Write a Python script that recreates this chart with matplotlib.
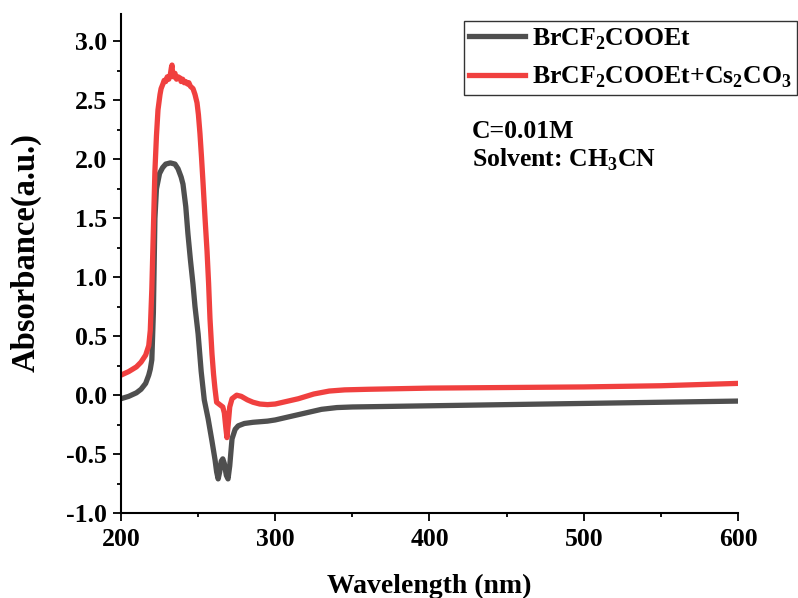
import matplotlib.pyplot as plt
from matplotlib.ticker import MultipleLocator

plt.rcParams["font.family"] = ["Liberation Serif", "DejaVu Serif"]
plt.rcParams["font.weight"] = "bold"
plt.rcParams["mathtext.fontset"] = "custom"
plt.rcParams["mathtext.rm"] = "Liberation Serif:bold"
plt.rcParams["mathtext.bf"] = "Liberation Serif:bold"

# UV-vis spectra (wavelength in nm, absorbance in a.u.)
wl_ester = [200, 205, 210, 213, 216, 218, 219, 220, 221, 222, 223, 225, 227, 229,
            232, 235, 237, 239, 240.2, 242, 243.4, 245, 246.7, 248, 250, 252, 254,
            256.5, 259, 261, 262, 263, 264, 265, 266, 267, 268.3, 269.4, 270.5, 272,
            274, 276, 280, 285.6, 295, 300, 310, 320, 330, 340, 350, 375, 400, 450,
            500, 550, 600]
abs_ester = [-0.03, -0.01, 0.02, 0.05, 0.1, 0.17, 0.22, 0.3, 0.7, 1.5, 1.75, 1.88, 1.93, 1.96,
             1.97, 1.96, 1.92, 1.85, 1.79, 1.6, 1.37, 1.15, 0.94, 0.75, 0.52, 0.2, -0.04,
             -0.2, -0.39, -0.55, -0.65, -0.71, -0.65, -0.56, -0.54, -0.58, -0.68, -0.71, -0.6, -0.37,
             -0.29, -0.26, -0.24, -0.23, -0.22, -0.21, -0.18, -0.15, -0.12, -0.105, -0.1, -0.095, -0.09, -0.08,
             -0.07, -0.06, -0.05]

wl_mix = [200, 205, 210, 213, 216, 218, 219, 220, 221, 222, 223, 224, 225.3, 226, 227.2,
          228, 229, 230, 231, 232, 232.7, 233.1, 233.5, 234, 235, 236, 237, 238.3, 239,
          240, 241, 242, 243, 244, 245, 246.7, 248, 249.3, 250.2, 251.2, 252.2, 253.2,
          254.5, 255.8, 256.8, 257.7, 259, 260, 260.9, 262, 264, 266, 267, 268, 268.7,
          269.5, 270.5, 272, 275, 278, 282, 285.6, 290, 295, 300, 305, 315, 325, 335,
          345, 360, 400, 450, 500, 550, 600]
abs_mix = [0.17, 0.2, 0.24, 0.28, 0.34, 0.42, 0.55, 0.9, 1.4, 1.9, 2.2, 2.42, 2.55, 2.6, 2.64,
           2.67, 2.66, 2.7, 2.68, 2.72, 2.78, 2.8, 2.72, 2.7, 2.73, 2.68, 2.7, 2.69, 2.66,
           2.68, 2.65, 2.66, 2.64, 2.65, 2.62, 2.6, 2.55, 2.48, 2.38, 2.22, 2.02, 1.8,
           1.5, 1.22, 0.95, 0.65, 0.35, 0.18, 0.06, -0.06, -0.08, -0.1, -0.15, -0.28, -0.36,
           -0.25, -0.1, -0.03, 0.0, -0.01, -0.04, -0.06, -0.075, -0.08, -0.075, -0.06, -0.03, 0.01, 0.035,
           0.045, 0.05, 0.06, 0.065, 0.07, 0.08, 0.1]

fig = plt.figure(figsize=(7.98, 5.98), dpi=100)
ax = fig.add_axes([0.1516, 0.142, 0.7732, 0.834])

ax.plot(wl_ester, abs_ester, color="#4f4f4f", lw=3.8, label=r"BrCF$_2$COOEt")
ax.plot(wl_mix, abs_mix, color="#f0403f", lw=3.8, label=r"BrCF$_2$COOEt+Cs$_2$CO$_3$")

ax.set_xlim(200, 600)
ax.set_ylim(-1.0, 3.23)
ax.xaxis.set_major_locator(MultipleLocator(100))
ax.xaxis.set_minor_locator(MultipleLocator(50))
ax.yaxis.set_major_locator(MultipleLocator(0.5))
ax.yaxis.set_minor_locator(MultipleLocator(0.25))
ax.yaxis.set_major_formatter(plt.FuncFormatter(lambda v, p: f"{v:.1f}"))

for s in ("top", "right"):
    ax.spines[s].set_visible(False)
for s in ("left", "bottom"):
    ax.spines[s].set_linewidth(1.5)

ax.tick_params(which="major", direction="out", length=6, width=1.3, labelsize=18.5)
ax.tick_params(axis="x", which="major", pad=5)
ax.tick_params(axis="y", which="major", pad=4)
ax.tick_params(which="minor", direction="out", length=3, width=1.3)
for lab in ax.get_xticklabels() + ax.get_yticklabels():
    lab.set_fontweight("bold")

ax.set_xlabel("Wavelength (nm)", fontsize=20, fontweight="bold", labelpad=16)
ax.set_ylabel("Absorbance(a.u.)", fontsize=23.5, fontweight="bold")
ax.yaxis.set_label_coords(-0.128, 0.522)

leg = ax.legend(loc="upper right", bbox_to_anchor=(1.096, 0.986), fontsize=18.5,
                frameon=True, fancybox=False, handlelength=2.2, borderpad=0.2,
                labelspacing=0.5, handletextpad=0.27, borderaxespad=0)
leg.get_frame().set_edgecolor("black")
leg.get_frame().set_linewidth(1.0)
for t in leg.get_texts():
    t.set_fontweight("bold")

ax.text(0.569, 0.753, "C=0.01M", transform=ax.transAxes, fontsize=18.5,
        fontweight="bold", va="baseline")
ax.text(0.569, 0.695, r"Solvent: CH$_3$CN", transform=ax.transAxes, fontsize=18.5,
        fontweight="bold", va="baseline")

fig.savefig("out.png", dpi=100)
